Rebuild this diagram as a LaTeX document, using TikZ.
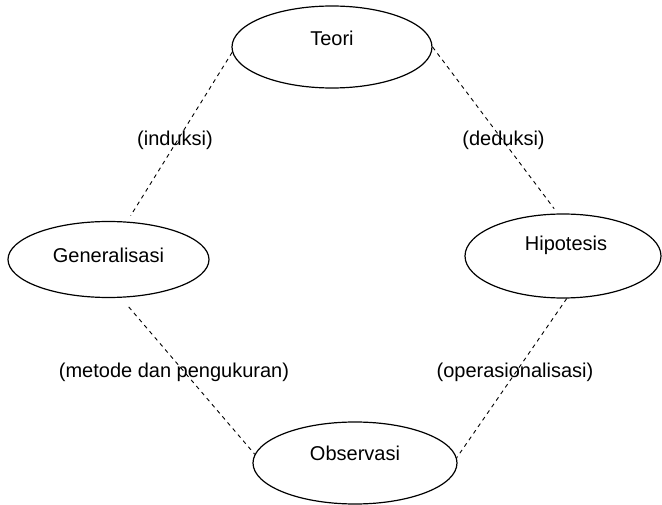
\documentclass[tikz,border=0pt]{standalone}
\usepackage{fontspec}
\setmainfont{Liberation Sans}
\usetikzlibrary{shapes.geometric}
\tikzset{
  oval/.style={ellipse, draw, line width=1.2pt, minimum width=200pt, minimum height=80pt, inner sep=0pt},
  conn/.style={line width=0.9pt, dash pattern=on 4pt off 4pt},
  lbl/.style={font=\fontsize{20}{24}\selectfont, inner sep=0pt},
}
\begin{document}
\begin{tikzpicture}[x=1pt,y=-1pt]
\useasboundingbox (0,0) rectangle (662,505);
\node[oval, minimum height=82pt, label={[lbl,yshift=9pt]center:Teori}] (teori) at (332,47) {};
\node[oval, minimum width=201pt, minimum height=76pt, label={[lbl,yshift=4.5pt]center:Generalisasi}] (gen) at (108.5,259.5) {};
\node[oval, minimum width=196pt, minimum height=84pt, label={[lbl,yshift=11pt,xshift=3pt]center:Hipotesis}] (hip) at (563,256) {};
\node[oval, minimum width=204pt, minimum height=82pt, label={[lbl,yshift=10pt]center:Observasi}] (obs) at (355,463) {};

\draw[conn, shorten >=7pt] (teori.183) -- (gen.64);
\draw[conn, shorten >=6pt] (teori.0) -- (hip.97);
\draw[conn, shorten <=12pt] (gen.-72) -- (obs.175);
\draw[conn] (hip.-85) -- (obs.3);

\node[lbl] (l1) at (175,140) {(induksi)};
\node[lbl] (l2) at (503.5,140) {(deduksi)};
\node[lbl] (l3) at (174,372) {(metode dan pengukuran)};
\node[lbl] (l4) at (515,372) {(operasionalisasi)};
\end{tikzpicture}
\end{document}
